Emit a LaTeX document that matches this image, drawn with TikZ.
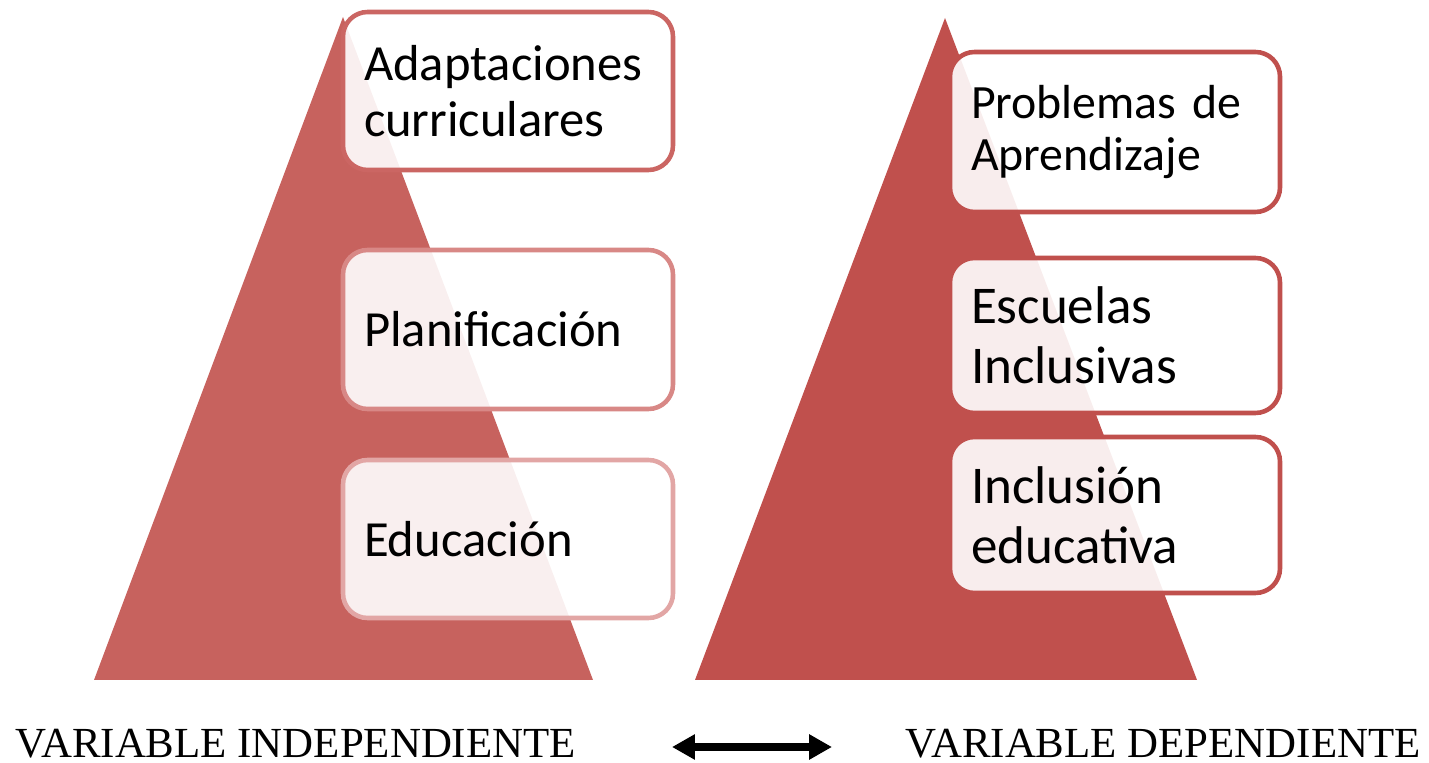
\documentclass[tikz,border=0pt]{standalone}
\usepackage{fontspec}
\setmainfont{Liberation Serif}
\newfontfamily\boxfont{Carlito}
\usetikzlibrary{arrows.meta}

\definecolor{pyrLeft}{RGB}{199,98,94}
\definecolor{pyrRight}{RGB}{192,80,77}
\definecolor{edgeA}{RGB}{203,102,99}
\definecolor{edgeB}{RGB}{216,136,134}
\definecolor{edgeC}{RGB}{226,166,165}

\begin{document}
\begin{tikzpicture}[
  item/.style={rectangle, draw=pyrRight, line width=1.3pt, fill=white, fill opacity=0.9,
               text opacity=1, rounded corners=7pt, minimum width=3.3cm,
               text width=2.88cm, inner xsep=0.21cm, align=left,
               font=\boxfont\fontsize{14.4}{15.8}\selectfont},
  small/.style={font=\boxfont\fontsize{13.6}{14.8}\selectfont},
  large/.style={font=\boxfont\fontsize{15.1}{17}\selectfont},
  varlabel/.style={anchor=base west, inner sep=0pt, font=\fontsize{12.2}{14}\selectfont},
  link/.style={line width=2pt, {Triangle[length=6.5pt,width=6.8pt]}-{Triangle[length=6.5pt,width=6.8pt]}}
]
  \useasboundingbox (0,0) rectangle (14.29,-7.63);

  % ── Pyramids ───────────────────────────────────────────────────────────
  \fill[pyrLeft]  (3.43,-0.17) -- (0.94,-6.80) -- (5.93,-6.80) -- cycle;
  \fill[pyrRight] (9.45,-0.18) -- (6.95,-6.80) -- (11.97,-6.80) -- cycle;

  % ── Left column: independent variable ─────────────────────────────────
  \node[item, draw=edgeA, minimum height=1.58cm] (adapt) at (5.08,-0.91)  {Adaptaciones\\curriculares};
  \node[item, draw=edgeB, minimum height=1.59cm] (plan)  at (5.08,-3.295) {Planificación};
  \node[item, draw=edgeC, minimum height=1.58cm] (educ)  at (5.08,-5.39)  {Educación};

  % ── Right column: dependent variable ──────────────────────────────────
  \node[item, small, minimum height=1.60cm] (prob)  at (11.15,-1.32)  {Problemas de\\Aprendizaje};
  \node[item, large, minimum height=1.55cm] (escu)  at (11.15,-3.355) {Escuelas\\Inclusivas};
  \node[item, large, minimum height=1.56cm] (inclu) at (11.15,-5.15)  {Inclusión\\educativa};

  % ── Bottom labels ──────────────────────────────────────────────────────
  \node[varlabel] (indep) at (0.15,-7.57) {VARIABLE INDEPENDIENTE};
  \node[varlabel] (dep)   at (9.05,-7.57) {VARIABLE DEPENDIENTE};

  % independent <-> dependent
  \coordinate (linkL) at (6.72,-7.47);
  \coordinate (linkR) at (8.32,-7.47);
  \draw[link] (linkL) -- (linkR);
\end{tikzpicture}
\end{document}
